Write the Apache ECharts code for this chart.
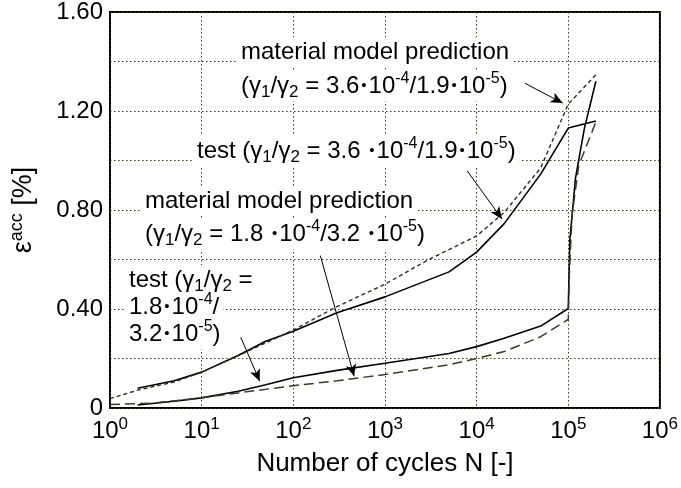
<!DOCTYPE html>
<html>
<head>
<meta charset="utf-8">
<script src="https://cdn.jsdelivr.net/npm/echarts@6/dist/echarts.min.js"></script>
<style>
html,body{margin:0;padding:0;background:#fff;}
#chart{width:681px;height:488px;}
</style>
</head>
<body>
<div id="chart"></div>
<script>
// ---- data ----
// test, gamma1/gamma2 = 3.6e-4/1.9e-5 (solid)
const testA_N = [2, 5, 10, 25, 50, 100, 300, 1000, 5000, 10000, 20000, 50000, 100000, 200000];
const testA_V = [0.08, 0.11, 0.145, 0.212, 0.27, 0.31, 0.385, 0.449, 0.55, 0.63, 0.745, 0.945, 1.131, 1.16];
// material model prediction, 3.6e-4/1.9e-5 (short dashes)
const modelA_N = [1, 2, 5, 10, 30, 100, 300, 1000, 3000, 10000, 20000, 50000, 100000, 200000];
const modelA_V = [0.038, 0.072, 0.105, 0.145, 0.225, 0.315, 0.41, 0.50, 0.60, 0.695, 0.79, 0.97, 1.228, 1.346];
// test, gamma1/gamma2 = 1.8e-4/3.2e-5 (solid)
const testB_N = [2, 5, 10, 25, 50, 100, 300, 1000, 5000, 10000, 20000, 50000, 100000, 104000, 120000, 150000, 200000];
const testB_V = [0.012, 0.027, 0.041, 0.068, 0.094, 0.122, 0.152, 0.181, 0.22, 0.248, 0.282, 0.331, 0.402, 0.68, 0.93, 1.13, 1.32];
// material model prediction, 1.8e-4/3.2e-5 (long dashes)
const modelB_N = [1, 3, 10, 25, 100, 300, 1000, 5000, 10000, 20000, 50000, 100000, 103000, 110000, 130000, 200000];
const modelB_V = [0.014, 0.02, 0.041, 0.061, 0.09, 0.11, 0.135, 0.175, 0.20, 0.228, 0.288, 0.358, 0.55, 0.78, 0.98, 1.155];

// arrows: [fromN, fromV, toN, toV]
const arrows = [
  [33650, 1.312, 86900, 1.232],
  [7900, 0.958, 18900, 0.764],
  [197, 0.616, 461, 0.128],
  [26.7, 0.286, 43, 0.108]
];

// annotation text lines: [text, left x, center y]
const annotations = [
  ['material model prediction', 237, 52],
  ['(γ{sub|1}/γ{sub|2} = 3.6{dot|•}10{sup|-4}/1.9{dot|•}10{sup|-5})', 237, 86],
  ['test (γ{sub|1}/γ{sub|2} = 3.6 {dot|•}10{sup|-4}/1.9{dot|•}10{sup|-5})', 193, 151],
  ['material model prediction', 141, 201],
  ['(γ{sub|1}/γ{sub|2} = 1.8 {dot|•}10{sup|-4}/3.2 {dot|•}10{sup|-5})', 141, 234],
  ['test (γ{sub|1}/γ{sub|2} =', 125, 280],
  ['1.8{dot|•}10{sup|-4}/', 125, 307],
  ['3.2{dot|•}10{sup|-5})', 125, 334]
];

const xTitle = 'Number of cycles N [-]';
const yTitle = 'ε{sup|acc} [%]';

const FONT = 'Liberation Sans';
const zip = (a, b) => a.map((v, i) => [v, b[i]]);

const rich = {
  sub: {fontSize: 17, lineHeight: 17, verticalAlign: 'bottom', fontFamily: FONT, fill: '#000', color: '#000'},
  sup: {fontSize: 16, lineHeight: 12, verticalAlign: 'top', fontFamily: FONT, fill: '#000', color: '#000'},
  dot: {fontSize: 15, fontFamily: FONT, fill: '#000', color: '#000', padding: [0, 2]}
};

const chart = echarts.init(document.getElementById('chart'));

const option = {
  animation: false,
  backgroundColor: '#fff',
  grid: {left: 104, right: 19, top: 10, bottom: 80, show: true, borderColor: '#000', borderWidth: 2, backgroundColor: 'transparent'},
  xAxis: {
    type: 'log', logBase: 10, min: 1, max: 1000000, splitNumber: 6,
    axisLine: {show: false}, axisTick: {show: false},
    splitLine: {show: true, lineStyle: {color: '#3a3a1e', width: 1, type: [1.5, 2.5]}},
    axisLabel: {
      margin: 8, color: '#000', fontSize: 24, fontFamily: FONT, lineHeight: 30,
      formatter: v => '10{sup|' + Math.round(Math.log10(v)) + '}',
      rich: {sup: {fontSize: 17, lineHeight: 14, verticalAlign: 'top', fontFamily: FONT, color: '#000'}}
    },
    name: xTitle, nameLocation: 'middle', nameGap: 35,
    nameTextStyle: {fontSize: 26, fontFamily: FONT, color: '#000'}
  },
  yAxis: {
    type: 'value', min: 0, max: 1.6, interval: 0.2,
    axisLine: {show: false}, axisTick: {show: false},
    splitLine: {show: true, lineStyle: {color: '#3a3a1e', width: 1, type: [1.5, 2.5]}},
    axisLabel: {
      margin: 7, color: '#000', fontSize: 24, fontFamily: FONT,
      formatter: v => (Math.round(v * 10) % 4 === 0) ? (v === 0 ? '0' : v.toFixed(2)) : ''
    },
    name: yTitle, nameLocation: 'middle', nameRotate: 90, nameGap: 70,
    nameTextStyle: {fontSize: 27, fontFamily: FONT, color: '#000', lineHeight: 32,
      rich: {sup: {fontSize: 18, lineHeight: 14, verticalAlign: 'top', fontFamily: FONT, color: '#000'}}}
  },
  series: [
    {type: 'line', name: 'test A', data: zip(testA_N, testA_V), symbol: 'none', z: 3,
     lineStyle: {color: '#000', width: 1.6}},
    {type: 'line', name: 'model A', data: zip(modelA_N, modelA_V), symbol: 'none', z: 3,
     lineStyle: {color: '#2e2e18', width: 1.4, type: [4, 3]}},
    {type: 'line', name: 'test B', data: zip(testB_N, testB_V), symbol: 'none', z: 3,
     lineStyle: {color: '#000', width: 1.6}},
    {type: 'line', name: 'model B', data: zip(modelB_N, modelB_V), symbol: 'none', z: 3,
     lineStyle: {color: '#3a3a22', width: 1.5, type: [10, 5]},
     markLine: {
       silent: true, animation: false, symbol: ['none', 'arrow'], symbolSize: [8, 12],
       label: {show: false},
       lineStyle: {color: '#000', width: 1, type: 'solid'},
       emphasis: {disabled: true},
       data: arrows.map(a => [{coord: [a[0], a[1]]}, {coord: [a[2], a[3]]}])
     }}
  ],
  graphic: annotations.map(a => ({
    type: 'text', z: 1, silent: true,
    style: {
      text: a[0], x: a[1], y: a[2], verticalAlign: 'middle', align: 'left',
      font: '24px "' + FONT + '"', fill: '#000', lineHeight: 30,
      backgroundColor: '#fff', padding: [0, 4],
      rich: rich
    }
  }))
};
chart.setOption(option);
</script>
</body>
</html>
